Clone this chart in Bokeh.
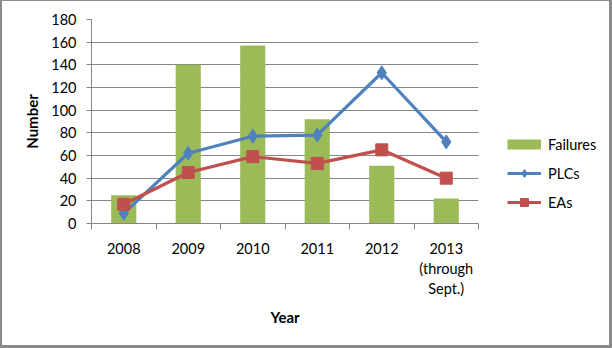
from bokeh.plotting import figure
from bokeh.layouts import row
from bokeh.models import (Range1d, FixedTicker, SingleIntervalTicker, Legend, LegendItem)
from bokeh.embed import file_html
from bokeh.resources import INLINE

years = ["2008", "2009", "2010", "2011", "2012", "2013\n(through\nSept.)"]
failures = [25, 140, 157, 92, 51, 22]
plcs = [9, 62, 77, 78, 133, 72]
eas = [17, 45, 59, 53, 65, 40]

GREEN = "#9BBB59"
BLUE = "#4F81BD"
RED = "#C0504D"
GRID = "#868686"
FONT = "Lato"

xs = [i + 0.5 for i in range(len(years))]

p = figure(width=486, height=344, output_backend="svg", toolbar_location=None,
           x_range=Range1d(0, len(years)), y_range=Range1d(0, 180),
           min_border_left=89, min_border_right=10, min_border_top=18,
           min_border_bottom=122)
p.frame_align = False
p.outline_line_color = None
p.background_fill_color = "white"
p.border_fill_color = "white"

bars = p.vbar(x=xs, top=failures, width=0.39, bottom=0, fill_color=GREEN,
              line_color=None)
pl = p.line(xs, plcs, line_color=BLUE, line_width=3.2)
ps = p.scatter(xs, plcs, marker="diamond", size=14, fill_color=BLUE, line_color=BLUE)
el = p.line(xs, eas, line_color=RED, line_width=3.2)
es = p.scatter(xs, eas, marker="square", size=12, fill_color=RED, line_color=RED)

# axes
xa = p.xaxis[0]
xa.ticker = FixedTicker(ticks=xs, minor_ticks=list(range(len(years) + 1)))
xa.major_label_overrides = {x: y for x, y in zip(xs, years)}
xa.major_tick_line_color = None
xa.minor_tick_in = 0
xa.minor_tick_out = 6
xa.minor_tick_line_color = GRID
xa.axis_line_color = GRID
xa.major_label_text_font = FONT
xa.major_label_text_font_size = "14.5px"
xa.major_label_text_color = "black"
xa.major_label_standoff = 10
xa.axis_label = "Year"
xa.axis_label_text_font = FONT
xa.axis_label_text_font_size = "15px"
xa.axis_label_text_font_style = "bold"
xa.axis_label_text_color = "black"
xa.axis_label_standoff = 8

ya = p.yaxis[0]
ya.ticker = SingleIntervalTicker(interval=20)
ya.minor_tick_line_color = None
ya.major_tick_in = 0
ya.major_tick_out = 5
ya.major_tick_line_color = GRID
ya.axis_line_color = GRID
ya.major_label_text_font = FONT
ya.major_label_text_font_size = "14.5px"
ya.major_label_text_color = "black"
ya.major_label_standoff = 10
ya.axis_label = "Number"
ya.axis_label_text_font = FONT
ya.axis_label_text_font_size = "15px"
ya.axis_label_text_font_style = "bold"
ya.axis_label_text_color = "black"
ya.axis_label_standoff = 7

p.xgrid.grid_line_color = None
p.ygrid.grid_line_color = GRID
p.ygrid.grid_line_width = 1

# legend panel: a second figure whose frame only holds the legend;
# the series are drawn there too but lie outside its 0..1 range (clipped)
q = figure(width=121, height=344, output_backend="svg", toolbar_location=None,
           x_range=Range1d(0, 1), y_range=Range1d(0, 1),
           x_axis_location=None, y_axis_location=None,
           min_border_left=19, min_border_right=0, min_border_top=133,
           min_border_bottom=100)
q.frame_align = False
q.outline_line_color = None
q.xgrid.grid_line_color = None
q.ygrid.grid_line_color = None
q.border_fill_color = "white"
q.background_fill_color = "white"

f_proxy = q.line(xs, failures, line_color=GREEN, line_width=10, line_cap="butt")
pl_proxy = q.line(xs, plcs, line_color=BLUE, line_width=3.2)
ps_proxy = q.scatter(xs, plcs, marker="diamond", size=11, fill_color=BLUE, line_color=BLUE)
el_proxy = q.line(xs, eas, line_color=RED, line_width=3.2)
es_proxy = q.scatter(xs, eas, marker="square", size=11, fill_color=RED, line_color=RED)

legend = Legend(items=[
    LegendItem(label="Failures", renderers=[f_proxy]),
    LegendItem(label="PLCs", renderers=[pl_proxy, ps_proxy]),
    LegendItem(label="EAs", renderers=[el_proxy, es_proxy]),
], location="top_left")
legend.border_line_color = None
legend.background_fill_alpha = 0
legend.padding = 0
legend.margin = 0
legend.spacing = 9
legend.glyph_width = 34
legend.glyph_height = 20
legend.label_standoff = 7
legend.label_text_font = FONT
legend.label_text_font_size = "14.5px"
legend.label_text_color = "black"
q.add_layout(legend, "center")

layout = row(p, q, spacing=0)
layout.styles = {"border-style": "solid", "border-color": "#8a8a8a",
                 "border-width": "1px 3px 3px 2px", "width": "fit-content"}

open("out.html", "w").write(file_html(layout, INLINE))
